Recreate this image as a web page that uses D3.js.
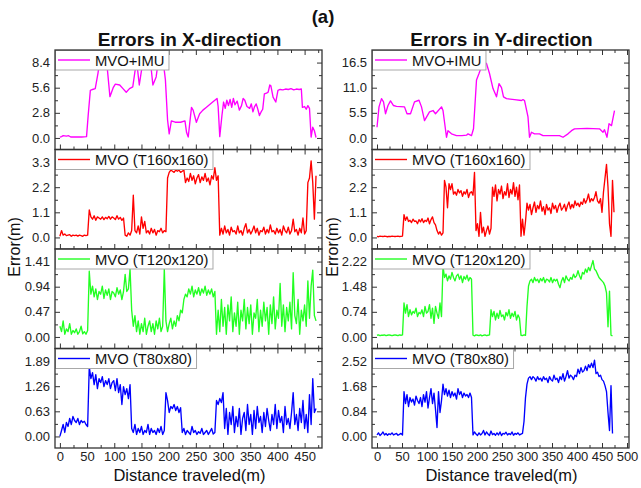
<!DOCTYPE html>
<html>
<head>
<meta charset="utf-8">
<script src="https://cdn.jsdelivr.net/npm/d3@7"></script>
<style>
  body { margin: 0; background: #fff; }
  svg { display: block; font-family: Arial, "Liberation Sans", sans-serif; }
</style>
</head>
<body>
<svg id="chart" width="641" height="488"></svg>
<script>
// ---------------------------------------------------------------
// Error logs (m) versus distance traveled (m)
// Gridded logs are sampled every `distanceStep` metres, 10 samples per row (30 m).
// ---------------------------------------------------------------
const distanceStep = 3;

const seriesNames = ["MVO+IMU", "MVO (T160x160)", "MVO (T120x120)", "MVO (T80x80)"];
const seriesColors = ["#ff00ff", "#ff0000", "#22ff22", "#0000ff"];

const distanceTicksX = ["0", "50", "100", "150", "200", "250", "300", "350", "400", "450"];
const distanceTicksY = ["0", "50", "100", "150", "200", "250", "300", "350", "400", "450", "500"];

// y-axis tick labels, one list per panel
const ticksXImu  = ["0.0", "2.8", "5.6", "8.4"];
const ticksXT160 = ["0.0", "1.1", "2.2", "3.3"];
const ticksXT120 = ["0.00", "0.47", "0.94", "1.41"];
const ticksXT80  = ["0.00", "0.63", "1.26", "1.89"];
const ticksYImu  = ["0.0", "5.5", "11.0", "16.5"];
const ticksYT160 = ["0.0", "1.1", "2.2", "3.3"];
const ticksYT120 = ["0.00", "0.74", "1.48", "2.22"];
const ticksYT80  = ["0.00", "0.84", "1.68", "2.52"];

// MVO+IMU, X direction: [distance, error]
const errXImu = [
  [0,0.1],[3,0.15],[6,0.25],[12,0.2],[16,0.25],[20,0.1],[30,0.12],[40,0.1],[49,0.15],
  [52,2.5],[56,5.3],[60,5.4],[65,5.5],[70,7.2],[75,9.3],[80,9.5],[86,8.5],[92,4.6],
  [98,5.6],[102,6.0],[110,5.9],[116,5.5],[122,5.1],[128,5.5],[134,5.7],[138,7.4],
  [141,8.6],[146,5.9],[150,7.5],[155,9.0],[160,9.4],[166,8.8],[171,5.9],[177,6.8],
  [182,9.0],[188,9.3],[192,7.5],[194,6.5],[198,2.0],[201,0.45],[205,1.9],[212,1.75],
  [222,1.75],[230,1.9],[233,0.6],[236,0.1],[242,3.4],[245,3.1],[251,1.75],[257,2.7],
  [263,3.1],[269,3.4],[281,4.0],[289,4.4],[291,3.5],[294,0.15],[298,2.5],[301,4.0],
  [304,3.3],[307,4.2],[310,3.6],[313,4.3],[316,3.4],[319,4.4],[322,3.7],[326,4.1],
  [330,3.1],[334,3.6],[337,4.4],[340,4.2],[344,3.5],[349,3.3],[352,3.8],[355,2.9],
  [358,3.5],[361,3.8],[364,3.2],[367,2.5],[370,2.9],[373,3.2],[376,4.9],[380,5.0],
  [383,5.1],[386,5.9],[388,5.8],[392,4.55],[397,4.0],[401,5.3],[405,5.4],[410,5.35],
  [415,5.45],[420,5.4],[425,5.5],[430,5.35],[435,5.45],[440,5.4],[444,5.45],[446,3.4],
  [450,3.5],[453,3.2],[456,3.6],[459,3.3],[462,0.1],[465,1.2],[468,0.8],[471,0.05]
];

// MVO T160x160, X direction (gridded)
const errXT160 = [
  0.05,0.3,0.1,0.15,0.08,0.1,0.12,0.05,0.1,0.08,
  0.1,0.06,0.1,0.08,0.05,0.1,0.08,0.1,1.2,0.9,
  0.8,0.95,0.75,0.9,0.85,0.8,0.9,0.78,0.88,0.82,
  0.92,0.8,0.9,0.85,0.78,0.95,0.8,0.88,0.75,0.85,
  0.1,0.05,0.2,0.1,0.3,1.85,0.3,0.2,0.5,0.15,
  0.9,0.4,0.7,0.2,0.3,0.15,0.4,0.2,0.35,0.1,
  0.3,0.25,0.4,0.2,0.3,0.25,2.6,2.85,2.95,2.9,
  2.85,2.95,2.9,2.95,2.85,2.9,2.95,2.4,2.6,2.45,
  2.8,2.5,2.7,2.35,2.6,2.75,2.4,2.65,2.5,2.8,
  2.45,2.6,2.3,2.7,2.55,3.05,2.5,2.7,0.1,0.4,
  0.15,0.5,0.2,0.35,0.1,0.45,0.25,0.3,0.15,0.5,
  0.2,0.3,0.1,0.4,0.6,0.2,0.35,0.15,0.3,0.5,
  0.2,0.4,0.1,0.3,0.25,0.45,0.15,0.35,0.2,0.55,
  0.25,0.3,0.15,0.4,0.2,0.35,0.1,0.5,0.3,0.2,
  0.45,0.15,0.3,0.8,0.25,0.35,0.1,0.4,0.2,0.85,
  0.15,0.3,2.4,2.6,3.35,2.4,0.8,2.7
];

// MVO T120x120, X direction (gridded)
const errXT120 = [
  0.2,0.1,0.3,0.05,0.15,0.1,0.25,0.05,0.12,0.08,
  0.15,0.05,0.1,0.2,0.06,0.1,0.05,0.12,1.23,0.8,
  0.95,0.75,0.9,0.7,0.85,0.8,0.95,0.72,0.88,0.78,
  0.9,0.7,0.85,0.82,0.75,0.92,0.8,0.88,0.7,0.85,
  1.17,0.85,0.9,1.27,0.5,0.2,0.4,0.1,0.3,0.05,
  0.25,0.1,0.35,0.05,0.2,0.3,0.1,0.25,0.05,0.3,
  0.15,0.35,0.1,0.2,1.27,0.3,0.1,0.25,0.35,0.15,
  0.3,0.2,0.4,0.3,0.5,0.45,0.7,0.8,0.75,0.9,
  0.8,0.95,0.75,0.88,0.8,0.92,0.78,0.9,0.82,0.95,
  0.78,0.88,0.8,0.9,0.75,0.85,0.05,0.5,0.1,0.7,
  0.2,0.55,0.05,0.6,0.3,0.75,0.1,0.45,0.2,0.65,
  0.05,0.5,0.3,0.7,0.15,0.55,0.25,0.6,0.05,0.45,
  0.35,0.7,0.1,0.5,0.2,0.65,0.3,0.55,0.05,0.6,
  0.25,0.75,0.15,0.5,0.35,1.0,0.2,0.6,0.1,0.55,
  0.3,0.65,0.15,1.2,0.4,0.25,0.7,0.05,0.5,0.3,
  0.6,0.2,1.05,0.35,0.95,1.25,0.4,0.3
];

// MVO T80x80, X direction (gridded)
const errXT80 = [
  0.0,0.15,0.3,0.1,0.35,0.25,0.45,0.3,0.5,0.4,
  0.35,0.45,0.3,0.4,0.35,0.38,0.3,0.25,1.75,1.45,
  1.6,1.3,1.55,1.2,1.45,1.35,1.5,1.25,1.4,1.3,
  1.45,1.2,1.35,1.4,1.15,1.45,1.1,1.3,0.8,1.25,
  1.05,1.2,0.95,1.3,0.2,0.1,0.3,0.05,0.2,0.1,
  0.25,0.05,0.15,0.1,0.3,0.05,0.2,0.1,0.15,0.05,
  0.2,0.1,0.25,0.05,0.15,1.1,0.9,0.6,0.75,0.7,
  0.8,0.65,0.75,0.6,0.72,0.1,0.2,0.05,0.15,0.1,
  0.05,0.25,0.1,0.15,0.05,0.12,0.08,0.2,0.05,0.1,
  0.15,0.05,0.12,0.2,0.06,0.1,0.9,0.8,0.95,0.85,
  1.1,0.2,0.7,0.05,0.6,0.3,0.75,0.1,0.5,0.25,
  0.7,0.05,0.45,0.6,0.15,0.8,0.3,0.55,0.05,0.65,
  0.2,0.75,0.35,0.5,0.1,0.6,0.25,0.7,0.4,0.15,
  0.55,0.3,0.8,0.2,0.65,0.35,0.5,0.1,0.75,0.3,
  0.45,0.2,0.6,1.1,0.3,0.55,0.15,0.7,0.35,0.9,
  0.2,0.55,0.1,1.05,0.3,1.45,0.6,0.7
];

// MVO+IMU, Y direction: [distance, error]
const errYImu = [
  [0,2.35],[4,6.8],[9,8.6],[13,7.9],[17,5.3],[22,7.1],[27,8.1],[33,7.1],[39,6.9],
  [55,6.8],[60,5.3],[67,5.3],[75,7.9],[84,8.25],[89,6.8],[95,3.8],[105,5.7],[112,6.0],
  [117,5.3],[129,6.8],[132,6.0],[139,0.15],[142,1.6],[149,0.9],[159,0.5],[170,0.5],
  [179,0.6],[182,0.9],[189,0.5],[193,2.0],[199,12.7],[204,14.1],[212,16.5],[219,16.3],
  [225,14.1],[232,10.8],[239,9.0],[244,11.9],[249,11.0],[253,9.0],[259,8.6],[275,8.4],
  [289,8.2],[292,8.4],[295,8.2],[302,4.6],[305,0.15],[309,1.25],[315,0.9],[325,0.9],
  [332,0.5],[350,0.5],[365,0.5],[372,0.15],[382,0.9],[389,1.6],[395,2.0],[420,2.1],
  [445,2.0],[452,1.25],[455,1.8],[460,0.15],[464,3.1],[469,2.7],[475,6.0]
];

// MVO T160x160, Y direction (gridded)
const errYT160 = [
  0.05,0.03,0.06,0.05,0.04,0.06,0.05,0.03,0.05,0.04,
  0.06,0.05,0.04,0.05,0.06,0.04,0.05,0.06,1.0,0.75,
  0.9,0.7,0.75,0.65,0.8,0.7,0.72,0.6,0.78,0.68,
  0.82,0.65,0.75,0.7,0.85,0.6,0.78,0.9,0.65,0.55,
  0.3,0.15,0.25,0.1,0.2,2.5,2.2,1.3,2.35,2.1,
  2.35,1.9,2.0,1.85,2.1,1.95,2.05,1.8,2.0,1.9,
  2.1,1.75,1.95,2.0,1.85,2.85,0.3,0.6,0.05,1.1,
  0.2,0.45,0.05,0.3,0.5,0.15,0.4,2.2,1.8,2.3,
  1.6,2.1,1.9,2.25,1.7,2.0,1.85,2.35,1.75,2.1,
  1.9,2.4,1.8,2.2,1.65,2.3,0.05,0.8,0.1,0.7,
  1.5,1.2,1.45,1.0,1.3,1.55,1.1,1.4,1.25,1.6,
  1.15,1.35,1.0,1.45,1.2,1.3,1.05,1.5,1.25,1.4,
  1.1,1.35,1.5,1.2,1.3,1.45,1.15,1.4,1.55,1.25,
  1.45,1.3,1.6,1.4,1.5,1.35,1.55,1.45,1.7,1.5,
  1.65,1.9,1.55,1.7,1.6,1.75,2.0,1.6,1.5,1.7,
  1.1,2.0,2.6,3.2,2.2,0.6,0.05,2.5,1.1
];

// MVO T120x120, Y direction (gridded)
const errYT120 = [
  0.05,0.06,0.04,0.05,0.05,0.06,0.04,0.05,0.06,0.05,
  0.04,0.05,0.06,0.05,0.04,0.06,0.05,0.06,1.0,0.7,
  0.95,0.6,0.8,0.65,0.75,0.7,0.85,0.6,0.72,0.68,
  0.8,0.6,0.9,0.7,0.75,0.95,0.55,0.85,0.4,0.9,
  0.7,0.55,1.0,0.6,2.09,1.75,1.85,1.65,1.8,1.7,
  1.9,1.75,1.65,1.8,1.85,1.7,1.8,1.6,1.78,1.7,
  1.82,1.65,1.75,1.7,0.05,0.03,0.06,0.05,0.04,0.06,
  0.03,0.05,0.06,0.04,0.05,0.06,0.8,0.6,0.75,0.5,
  0.7,0.55,0.78,0.6,0.65,0.5,0.72,0.62,0.8,0.55,
  0.7,0.6,0.75,0.5,0.65,0.55,0.05,0.04,0.06,0.05,
  0.9,1.5,1.65,1.7,1.6,1.75,1.65,1.7,1.6,1.72,
  1.65,1.75,1.6,1.7,1.68,1.62,1.75,1.6,1.7,1.65,
  1.7,1.55,1.45,1.65,1.75,1.6,1.8,1.7,1.65,1.75,
  1.7,1.85,1.75,1.8,1.95,1.8,1.7,1.9,1.85,2.0,
  1.9,2.05,1.95,2.1,2.25,2.0,1.95,1.85,1.75,1.7,
  1.65,1.6,1.5,1.3,0.3,1.35,0.05,0.03
];

// MVO T80x80, Y direction (gridded)
const errYT80 = [
  0.05,0.12,0.03,0.08,0.15,0.05,0.1,0.04,0.09,0.06,
  0.12,0.05,0.08,0.1,0.04,0.07,0.1,0.05,1.5,1.1,
  1.4,1.0,1.3,1.15,1.25,1.05,1.35,1.2,1.1,1.3,
  1.0,1.4,1.15,1.5,0.95,1.3,1.6,1.1,1.45,0.9,
  0.3,1.5,0.8,1.2,1.75,1.4,1.6,1.35,1.55,1.3,
  1.5,1.35,1.45,1.25,1.6,1.4,1.5,1.3,1.45,1.35,
  1.4,1.3,1.45,1.3,0.05,0.15,0.08,0.03,0.12,0.05,
  0.1,0.2,0.05,0.15,0.08,0.03,0.18,0.06,0.1,0.04,
  0.12,0.05,0.15,0.03,0.1,0.08,0.14,0.05,0.1,0.06,
  0.15,0.04,0.1,0.07,0.12,0.05,0.08,0.1,0.5,1.3,
  1.75,1.95,2.0,1.9,2.0,1.95,1.85,2.0,1.9,1.95,
  1.85,2.0,1.9,1.95,1.8,2.0,1.9,1.85,2.05,1.9,
  1.95,1.8,2.0,1.9,2.1,1.85,2.0,2.2,1.95,2.05,
  2.0,1.9,2.05,2.0,2.25,2.1,2.3,2.15,2.2,2.35,
  2.2,2.4,2.3,2.45,2.3,2.55,2.1,2.15,2.0,2.05,
  1.9,1.85,1.7,1.5,0.8,0.2,1.7,0.1
];

// ---------------------------------------------------------------
const gridded = vals => vals.map((v, i) => [i * distanceStep, v]);

const columns = [
  {
    title: "Errors in X-direction",
    left: 55, right: 322, domain: [-9, 482],
    distTicks: distanceTicksX,
    series: [errXImu, gridded(errXT160), gridded(errXT120), gridded(errXT80)],
    yTicks: [ticksXImu, ticksXT160, ticksXT120, ticksXT80],
    yLabelX: 14
  },
  {
    title: "Errors in Y-direction",
    left: 372, right: 629, domain: [-10, 504],
    distTicks: distanceTicksY,
    series: [errYImu, gridded(errYT160), gridded(errYT120), gridded(errYT80)],
    yTicks: [ticksYImu, ticksYT160, ticksYT120, ticksYT80],
    yLabelX: 332
  }
];

const panelTop = 50, panelH = 99.5, nPanels = 4;
const frameColor = "#333";
const svg = d3.select("#chart");

// panel label "(a)"
svg.append("text").attr("x", 323).attr("y", 23).attr("text-anchor", "middle")
  .attr("font-size", 18.5).attr("font-weight", "bold").attr("fill", "#111").text("(a)");

columns.forEach((col, ci) => {
  const x = d3.scaleLinear().domain(col.domain).range([col.left, col.right]);
  const cx = (col.left + col.right) / 2;

  svg.append("text").attr("x", cx + 1).attr("y", 46).attr("text-anchor", "middle")
    .attr("font-size", 19).attr("font-weight", "bold").attr("fill", "#111").text(col.title);

  const distVals = col.distTicks.map(Number);
  const distMinor = d3.range(distVals[0] + 25, col.domain[1], 50);

  col.series.forEach((data, pi) => {
    const y0 = panelTop + pi * panelH, y1 = y0 + panelH;
    const labels = col.yTicks[pi];
    const vals = labels.map(Number);
    const step = vals[1] - vals[0];
    const y = d3.scaleLinear().domain([-0.46 * step, 3.5 * step]).range([y1, y0]);
    const minor = vals.slice(0, -1).map(v => v + step / 2);

    const g = svg.append("g");
    const clipId = `clip-${ci}-${pi}`;
    g.append("clipPath").attr("id", clipId).append("rect")
      .attr("x", col.left).attr("y", y0).attr("width", col.right - col.left).attr("height", panelH);

    // error curve
    g.append("path").datum(data)
      .attr("clip-path", `url(#${clipId})`)
      .attr("fill", "none").attr("stroke", seriesColors[pi]).attr("stroke-width", 1.35)
      .attr("stroke-linejoin", "round")
      .attr("d", d3.line().x(d => x(d[0])).y(d => y(d[1])));

    const styleAxis = sel => {
      sel.select(".domain").remove();
      sel.selectAll(".tick line").attr("stroke", frameColor).attr("stroke-width", 1);
      sel.selectAll("text").attr("fill", "#222").attr("font-size", 13)
        .attr("font-family", "Arial, 'Liberation Sans', sans-serif");
    };

    // left axis with labels, inward ticks
    g.append("g").attr("transform", `translate(${col.left},0)`)
      .call(d3.axisLeft(y).tickValues(vals).tickSize(-5).tickPadding(5).tickFormat((d, i) => labels[i]))
      .call(styleAxis);
    g.append("g").attr("transform", `translate(${col.left},0)`)
      .call(d3.axisLeft(y).tickValues(minor).tickSize(-3).tickFormat(""))
      .call(styleAxis);
    // right axis ticks
    g.append("g").attr("transform", `translate(${col.right},0)`)
      .call(d3.axisRight(y).tickValues(vals).tickSize(-5).tickFormat(""))
      .call(styleAxis);
    g.append("g").attr("transform", `translate(${col.right},0)`)
      .call(d3.axisRight(y).tickValues(minor).tickSize(-3).tickFormat(""))
      .call(styleAxis);
    // top ticks
    g.append("g").attr("transform", `translate(0,${y0})`)
      .call(d3.axisTop(x).tickValues(distVals).tickSize(-5).tickFormat(""))
      .call(styleAxis);
    g.append("g").attr("transform", `translate(0,${y0})`)
      .call(d3.axisTop(x).tickValues(distMinor).tickSize(-3).tickFormat(""))
      .call(styleAxis);
    // bottom ticks (labels on the last panel only)
    const isLast = pi === nPanels - 1;
    g.append("g").attr("transform", `translate(0,${y1})`)
      .call(d3.axisBottom(x).tickValues(distVals).tickSize(-5).tickPadding(4)
        .tickFormat((d, i) => isLast ? col.distTicks[i] : ""))
      .call(styleAxis);
    g.append("g").attr("transform", `translate(0,${y1})`)
      .call(d3.axisBottom(x).tickValues(distMinor).tickSize(-3).tickFormat(""))
      .call(styleAxis);

    // legend
    const lg = g.append("g");
    const lrect = lg.append("rect").attr("x", col.left + 0.5).attr("y", y0 + 0.5)
      .attr("height", 19.5).attr("fill", "#fff").attr("stroke", "#a8a8a8").attr("stroke-width", 1);
    lg.append("line").attr("x1", col.left + 3).attr("x2", col.left + 35)
      .attr("y1", y0 + 10).attr("y2", y0 + 10)
      .attr("stroke", seriesColors[pi]).attr("stroke-width", 1.4);
    const lt = lg.append("text").attr("x", col.left + 40).attr("y", y0 + 15.5)
      .attr("font-size", 14.8).attr("fill", "#111").text(seriesNames[pi]);
    const tw = lt.node().getComputedTextLength();
    lrect.attr("width", 40 + tw + 4);

    // frame
    g.append("rect").attr("x", col.left).attr("y", y0)
      .attr("width", col.right - col.left).attr("height", panelH)
      .attr("fill", "none").attr("stroke", frameColor).attr("stroke-width", 1.3);
  });

  // axis titles
  svg.append("text").attr("x", cx + 1).attr("y", 481).attr("text-anchor", "middle")
    .attr("font-size", 16.5).attr("fill", "#111").text("Distance traveled(m)");
  svg.append("text")
    .attr("transform", `translate(${col.yLabelX},${panelTop + 2 * panelH - 2}) rotate(-90)`)
    .attr("text-anchor", "middle").attr("dy", "0.35em")
    .attr("font-size", 16).attr("fill", "#111").text("Error(m)");
});
</script>
</body>
</html>
